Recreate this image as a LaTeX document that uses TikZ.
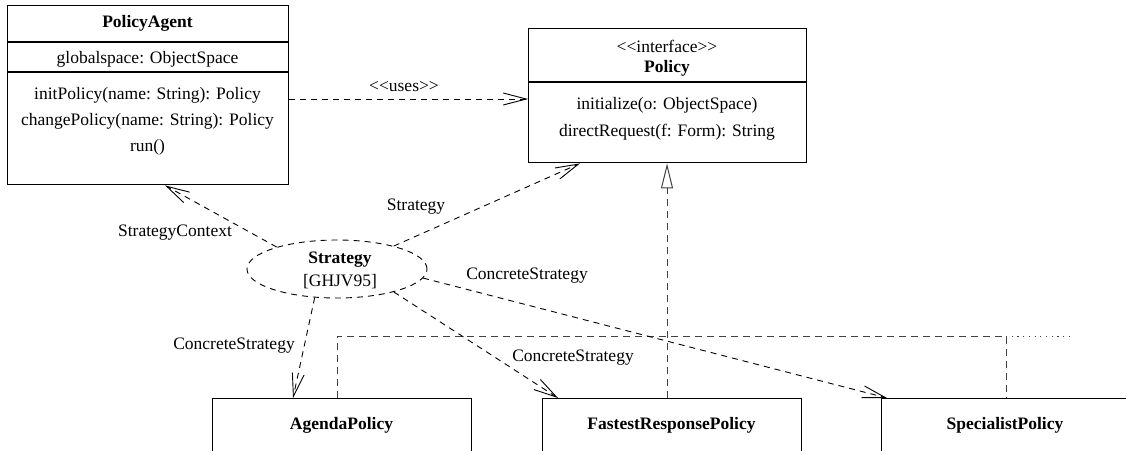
\documentclass[tikz,border=0pt]{standalone}
\usepackage{fontspec}
\setmainfont{Liberation Serif}
\usetikzlibrary{arrows.meta,shapes.geometric}

% guillemet-free stereotype brackets
\newcommand{\stereoL}{<\kern0pt<}
\newcommand{\stereoR}{>\kern0pt>}

\tikzset{
  every node/.style={font=\fontsize{17.5}{21}\selectfont, inner sep=0pt},
  classbox/.style={draw, line width=1.4pt, minimum width=#1, anchor=north west},
  txt/.style={anchor=center},
  btxt/.style={anchor=center, font=\fontsize{17.5}{21}\selectfont\bfseries},
  dep/.style={draw, line width=0.9pt, dash pattern=on 6pt off 5pt,
    -{Straight Barb[length=23pt, width=12pt, line width=0.9pt]}},
  realize/.style={draw, black!75, line width=1pt, dash pattern=on 7pt off 5pt},
  realtip/.style={-{Triangle[open, length=25pt, width=12pt, line width=1pt, fill=white]}},
  more/.style={draw, black!75, line width=1pt, dash pattern=on 1.2pt off 4.5pt},
}

\begin{document}
\begin{tikzpicture}[x=1pt, y=-1pt]
\useasboundingbox (0,0) rectangle (1126,450);
\clip (0,0) rectangle (1126,450);

% ---- PolicyAgent class ----
\node[classbox=281pt, minimum height=179pt] (agent) at (7,5) {};
\draw[line width=1.2pt] (agent.west |- 0,42) -- (agent.east |- 0,42);
\draw[line width=1.2pt] (agent.west |- 0,72) -- (agent.east |- 0,72);
\node[btxt] (agentname) at (147.5,23) {PolicyAgent};
\node[txt] (agentattr) at (147.5,59) {globalspace: ObjectSpace};
\node[txt] (agentop1) at (147.5,95) {initPolicy(name: String): Policy};
\node[txt] (agentop2) at (147.5,121) {changePolicy(name: String): Policy};
\node[txt] (agentop3) at (147.5,147) {run()};

% ---- Policy interface ----
\node[classbox=278pt, minimum height=134pt] (policy) at (528,28) {};
\draw[line width=1.2pt] (policy.west |- 0,82) -- (policy.east |- 0,82);
\node[txt] (policystereo) at (667,46) {\stereoL interface\stereoR};
\node[btxt] (policyname) at (667,68) {Policy};
\node[txt] (policyop1) at (667,105) {initialize(o: ObjectSpace)};
\node[txt] (policyop2) at (667,132) {directRequest(f: Form): String};

% ---- concrete policies ----
\node[classbox=259pt, minimum height=70pt] (agenda) at (212,398) {};
\node[btxt] (agendaname) at (341.5,425) {AgendaPolicy};
\node[classbox=259pt, minimum height=70pt] (fastest) at (542,398) {};
\node[btxt] (fastestname) at (671.5,425) {FastestResponsePolicy};
\node[classbox=248pt, minimum height=70pt] (special) at (881,398) {};
\node[btxt] (specialname) at (1005,425) {SpecialistPolicy};

% ---- uses dependency ----
\draw[dep] (agent.east |- 0,99) -- (policy.west |- 0,99);
\node[txt] (useslabel) at (404,87) {\stereoL uses\stereoR};

% ---- realization hierarchy ----
\draw[realize, realtip] (fastest.north -| 667,0) -- (policy.south -| 667,0);
\coordinate (busL) at (337,336);
\coordinate (busR) at (1006,336);
\coordinate (busEnd) at (1073,336);
\draw[realize] (agenda.north -| busL) -- (busL) -- (busR) -- (special.north -| busR);
\draw[more] (busR) -- (busEnd);

% ---- Strategy collaboration ----
\node[ellipse, draw, line width=0.9pt, dash pattern=on 6pt off 5pt,
      minimum width=180pt, minimum height=58pt] (strat) at (337,269) {};
\node[btxt] (stratname) at (340,260) {Strategy};
\node[txt] (stratref) at (340,282) {[GHJV95]};

\draw[dep] (strat.160) -- (agent.south -| 165,0);
\node[txt] (ctxlabel) at (175,233) {StrategyContext};

\draw[dep] (strat.22) -- (policy.south -| 580,0);
\node[txt] (strlabel) at (416,207) {Strategy};

\draw[dep] (strat.232) -- (agenda.north -| 293,0);
\node[txt] (cs1label) at (234,346) {ConcreteStrategy};

\draw[dep] (strat.-22) -- (fastest.north -| 558,0);
\node[txt] (cs2label) at (573,358) {ConcreteStrategy};

\draw[dep] (strat.-6) -- (special.north -| 887,0);
\node[txt] (cs3label) at (527,276) {ConcreteStrategy};
\end{tikzpicture}
\end{document}
